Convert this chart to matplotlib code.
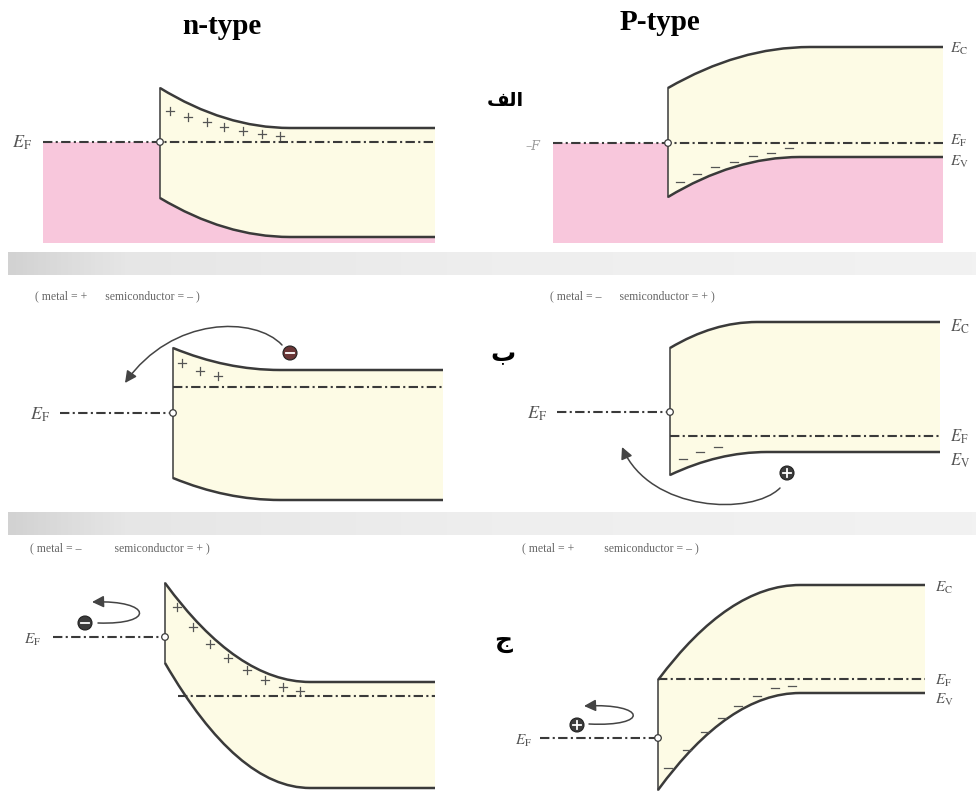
import matplotlib
matplotlib.use("Agg")
import matplotlib.pyplot as plt
import numpy as np
from matplotlib.path import Path
from matplotlib.patches import PathPatch, Rectangle, Circle, FancyArrowPatch
from matplotlib.colors import LinearSegmentedColormap

plt.rcParams["mathtext.fontset"] = "stix"

W, H = 976, 794
CREAM = "#fdfbe5"
PINK = "#f8c7dc"
LINE = "#3a3a3a"
LABEL = "#555555"

# band edge: x at junction, y at junction, x where it goes flat, flat y, x end
# --- row a ---
a_n_ec = [160, 88, 290, 128, 435]
a_n_ev = [160, 198, 290, 237, 435]
a_n_ef = [43, 435, 142]
a_n_metal = [43, 142, 243]
a_n_plus = [(170, 111), (188, 117), (207, 122), (224, 127), (243, 131), (262, 134), (280, 136)]

a_p_ec = [668, 88, 810, 47, 943]
a_p_ev = [668, 197, 800, 157, 943]
a_p_ef = [553, 943, 143]
a_p_metal = [553, 143, 243]
a_p_minus = [(680, 182), (697, 174), (715, 167), (734, 162), (753, 156), (771, 153), (789, 148)]

# --- row b ---
b_n_ec = [173, 348, 280, 370, 443]
b_n_ev = [173, 478, 280, 500, 443]
b_n_ef_metal = [60, 173, 413]
b_n_ef_semi = [173, 443, 387]
b_n_plus = [(182, 363), (200, 371), (218, 376)]
b_n_electron = (290, 353)
b_n_arrow = [(282, 345), (255, 316), (172, 316), (125, 383)]

b_p_ec = [670, 348, 757, 322, 940]
b_p_ev = [670, 475, 767, 452, 940]
b_p_ef_metal = [557, 670, 412]
b_p_ef_semi = [670, 940, 436]
b_p_minus = [(683, 459), (700, 452), (718, 447)]
b_p_hole = (787, 473)
b_p_arrow = [(780, 488), (752, 516), (650, 512), (622, 447)]

# --- row c ---
c_n_ec = [165, 583, 310, 682, 435]
c_n_ev = [165, 663, 310, 788, 435]
c_n_ef_metal = [53, 165, 637]
c_n_ef_semi = [178, 435, 696]
c_n_plus = [(177, 607), (193, 627), (210, 644), (228, 658), (247, 670), (265, 680), (283, 687), (300, 691)]
c_n_electron = (85, 623)
c_n_arrow = [(98, 623), (156, 625), (152, 600), (92, 602)]

c_p_ec = [658, 680, 800, 585, 925]
c_p_ev = [658, 790, 800, 693, 925]
c_p_ef_metal = [540, 658, 738]
c_p_ef_semi = [658, 925, 679]
c_p_minus = [(668, 768), (687, 750), (705, 732), (722, 718), (738, 706), (757, 696), (775, 688), (792, 686)]
c_p_hole = (577, 725)
c_p_arrow = [(589, 724), (650, 727), (647, 703), (584, 706)]

titles = [("n-type", 222, 27), ("P-type", 660, 22)]
row_tags = [("\uFED2\uFEDF\uFE8D", 505, 100, 14), ("\u0628", 503, 354, 18), ("\u062C", 503, 641, 18)]
captions = [
    ("( metal = +      semiconductor = \u2013 )", 35, 296),
    ("( metal = \u2013      semiconductor = + )", 550, 296),
    ("( metal = \u2013           semiconductor = + )", 30, 548),
    ("( metal = +          semiconductor = \u2013 )", 522, 548),
]
separators = [252, 512]


def band_path(b):
    x0, y0, x1, y1, x2 = b
    verts = [(x0, y0), ((x0 + x1) / 2, y1), (x1, y1), (x2, y1)]
    codes = [Path.MOVETO, Path.CURVE3, Path.CURVE3, Path.LINETO]
    return Path(verts, codes)


def gap_path(ec, ev):
    x0, c0, xc, c1, x2 = ec
    _, v0, xv, v1, _ = ev
    verts = [(x0, c0), ((x0 + xc) / 2, c1), (xc, c1), (x2, c1),
             (x2, v1), (xv, v1), ((x0 + xv) / 2, v1), (x0, v0), (x0, c0)]
    codes = [Path.MOVETO, Path.CURVE3, Path.CURVE3, Path.LINETO,
             Path.LINETO, Path.LINETO, Path.CURVE3, Path.CURVE3, Path.CLOSEPOLY]
    return Path(verts, codes)


def draw_bands(ax, ec, ev):
    ax.add_patch(PathPatch(gap_path(ec, ev), fc=CREAM, ec="none", zorder=1))
    for b in (ec, ev):
        ax.add_patch(PathPatch(band_path(b), fc="none", ec=LINE, lw=1.8,
                               capstyle="butt", zorder=3))
    ax.plot([ec[0], ec[0]], [ec[1], ev[1]], color=LINE, lw=1.1, zorder=3)


def dashdot(ax, x0, x1, y):
    ax.plot([x0, x1], [y, y], color=LINE, lw=1.5, dashes=[4.5, 1.6, 1, 1.6],
            zorder=4)


def contact(ax, x, y):
    ax.add_patch(Circle((x, y), 3.3, fc="white", ec=LINE, lw=0.9, zorder=5))


def charges(ax, pts, sign):
    for x, y in pts:
        ax.plot([x - 4, x + 4], [y, y], color="#555555", lw=0.9, zorder=4)
        if sign > 0:
            ax.plot([x, x], [y - 4, y + 4], color="#555555", lw=0.9, zorder=4)


def carrier(ax, xy, sign, color):
    x, y = xy
    ax.add_patch(Circle(xy, 7, fc=color, ec="#222222", lw=0.8, zorder=6))
    ax.plot([x - 4, x + 4], [y, y], color="white", lw=1.3, zorder=7)
    if sign > 0:
        ax.plot([x, x], [y - 4, y + 4], color="white", lw=1.3, zorder=7)


def arrow(ax, pts):
    codes = [Path.MOVETO, Path.CURVE4, Path.CURVE4, Path.CURVE4]
    ax.add_patch(FancyArrowPatch(path=Path(pts, codes),
                                 arrowstyle="-|>,head_length=7,head_width=3.5",
                                 color="#444444", lw=1.1, zorder=6))


def label(ax, x, y, txt, ha="left", size=13):
    ax.text(x, y, txt, ha=ha, va="center", fontsize=size, color=LABEL)


fig = plt.figure(figsize=(W / 100, H / 100), dpi=100)
ax = fig.add_axes([0, 0, 1, 1])

# grey separator strips
grey = LinearSegmentedColormap.from_list("strip", [(0, "#d2d2d2"), (0.12, "#e6e6e6"),
                                                   (0.5, "#eeeeee"), (1, "#f2f2f2")])
for y in separators:
    ax.imshow(np.linspace(0, 1, 256).reshape(1, -1), cmap=grey, aspect="auto",
              extent=[8, W, y + 23, y], zorder=0)

# row a: metal fill below E_F
for xs, xe, y0, y1 in [(a_n_metal[0], a_n_ec[4], a_n_metal[1], a_n_metal[2]),
                       (a_p_metal[0], a_p_ec[4], a_p_metal[1], a_p_metal[2])]:
    ax.add_patch(Rectangle((xs, y0), xe - xs, y1 - y0, fc=PINK, ec="none", zorder=0.5))

draw_bands(ax, a_n_ec, a_n_ev)
dashdot(ax, a_n_ef[0], a_n_ef[1], a_n_ef[2])
contact(ax, a_n_ec[0], a_n_ef[2])
charges(ax, a_n_plus, +1)
label(ax, 12, a_n_ef[2] + 1, r"$E_\mathrm{F}$")

draw_bands(ax, a_p_ec, a_p_ev)
dashdot(ax, a_p_ef[0], a_p_ef[1], a_p_ef[2])
contact(ax, a_p_ec[0], a_p_ef[2])
charges(ax, a_p_minus, -1)
ax.text(526, a_p_ef[2] + 4, "\u2013F", fontsize=9, color="#999999", family="serif",
        style="italic", va="center")
label(ax, 950, a_p_ec[3] + 2, r"$E_\mathrm{C}$", size=11)
label(ax, 950, a_p_ef[2] - 2, r"$E_\mathrm{F}$", size=11)
label(ax, 950, a_p_ev[3] + 5, r"$E_\mathrm{V}$", size=11)

# row b
draw_bands(ax, b_n_ec, b_n_ev)
dashdot(ax, *b_n_ef_metal)
dashdot(ax, *b_n_ef_semi)
contact(ax, b_n_ec[0], b_n_ef_metal[2])
charges(ax, b_n_plus, +1)
carrier(ax, b_n_electron, -1, "#6a3636")
arrow(ax, b_n_arrow)
label(ax, 30, b_n_ef_metal[2] + 2, r"$E_\mathrm{F}$")

draw_bands(ax, b_p_ec, b_p_ev)
dashdot(ax, *b_p_ef_metal)
dashdot(ax, *b_p_ef_semi)
contact(ax, b_p_ec[0], b_p_ef_metal[2])
charges(ax, b_p_minus, -1)
carrier(ax, b_p_hole, +1, "#3c3c3c")
arrow(ax, b_p_arrow)
label(ax, 527, b_p_ef_metal[2] + 2, r"$E_\mathrm{F}$")
label(ax, 950, b_p_ec[3] + 5, r"$E_\mathrm{C}$", size=12)
label(ax, 950, b_p_ef_semi[2] + 1, r"$E_\mathrm{F}$", size=12)
label(ax, 950, b_p_ev[3] + 9, r"$E_\mathrm{V}$", size=12)

# row c
draw_bands(ax, c_n_ec, c_n_ev)
dashdot(ax, *c_n_ef_metal)
dashdot(ax, *c_n_ef_semi)
contact(ax, c_n_ec[0], c_n_ef_metal[2])
charges(ax, c_n_plus, +1)
carrier(ax, c_n_electron, -1, "#3c3c3c")
arrow(ax, c_n_arrow)
label(ax, 24, c_n_ef_metal[2] + 3, r"$E_\mathrm{F}$", size=11)

draw_bands(ax, c_p_ec, c_p_ev)
dashdot(ax, *c_p_ef_metal)
dashdot(ax, *c_p_ef_semi)
contact(ax, c_p_ec[0], c_p_ef_metal[2])
charges(ax, c_p_minus, -1)
carrier(ax, c_p_hole, +1, "#3c3c3c")
arrow(ax, c_p_arrow)
label(ax, 515, c_p_ef_metal[2] + 3, r"$E_\mathrm{F}$", size=11)
label(ax, 935, c_p_ec[3] + 3, r"$E_\mathrm{C}$", size=11)
label(ax, 935, c_p_ef_semi[2] + 2, r"$E_\mathrm{F}$", size=11)
label(ax, 935, c_p_ev[3] + 7, r"$E_\mathrm{V}$", size=11)

for txt, x, y in titles:
    ax.text(x, y, txt, ha="center", va="center", fontsize=21, fontweight="bold",
            family="Liberation Serif", color="black")
for txt, x, y, size in row_tags:
    ax.text(x, y, txt, ha="center", va="center", fontsize=size, fontweight="bold",
            family="DejaVu Sans", color="black")
for txt, x, y in captions:
    ax.text(x, y, txt, ha="left", va="center", fontsize=8.5,
            family="Liberation Serif", color="#666666")

ax.set_xlim(0, W)
ax.set_ylim(H, 0)
ax.axis("off")
fig.savefig("out.png", dpi=100)
